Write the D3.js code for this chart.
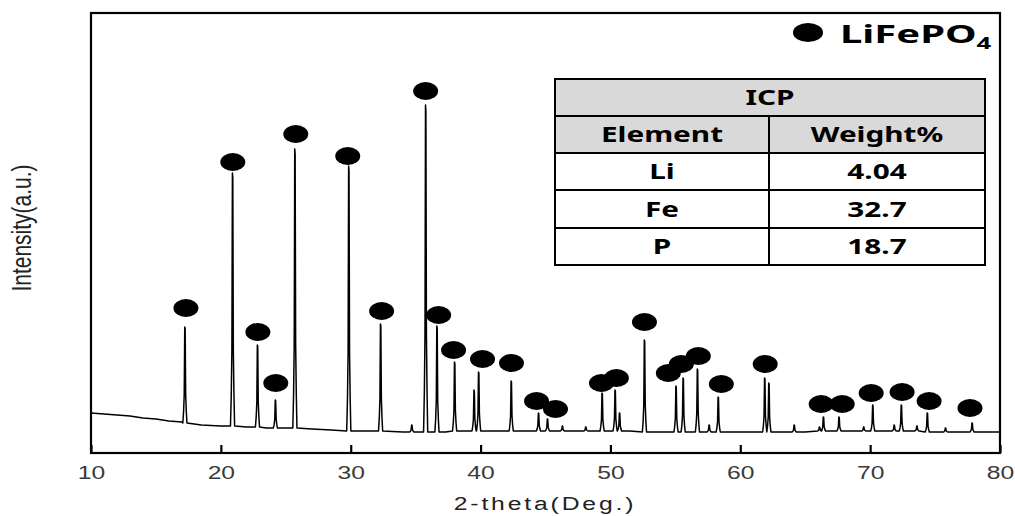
<!DOCTYPE html>
<html>
<head>
<meta charset="utf-8">
<script src="https://cdn.jsdelivr.net/npm/d3@7/dist/d3.min.js"></script>
<style>
  body { margin: 0; background: #fff; }
  svg { display: block; }
</style>
</head>
<body>
<div id="chart"></div>
<script>
// background of the pattern, read at a few 2-theta positions
var baseTheta = [10, 11, 12, 13, 14, 15, 16, 17, 18.5, 20, 22, 23.5, 27, 28.5, 31, 34, 37.3, 41, 43.5, 47, 48.8, 51.5, 54, 59.5, 60.5, 63, 65, 68.5, 71, 73, 76.5, 79, 80];
var baseLevel = [40, 39, 38, 37, 35, 34, 32, 31, 28, 27, 26, 25, 24, 23, 22, 21, 21, 22, 22, 22, 22, 22, 21, 21, 21, 21, 21, 22, 22, 22, 21, 21, 21];

// reflections: position, top intensity, local background
var peakTheta = [17.23, 20.9, 22.82, 24.2, 25.7, 29.85, 32.3, 34.7, 35.77, 36.64, 38.0, 39.5, 39.85, 42.36, 44.46, 45.15, 46.3, 48.1, 49.36, 50.36, 50.7, 52.62, 55.05, 55.6, 56.7, 57.6, 58.3, 61.88, 62.2, 64.15, 66.1, 66.4, 67.6, 69.5, 70.2, 71.85, 72.4, 73.6, 74.4, 75.8, 77.85];
var peakTop = [126, 280, 108, 53, 304, 287, 129, 28, 348, 127, 91, 63, 81, 72, 40, 34, 27, 26, 60, 63, 40, 113, 67, 75, 84, 28, 56, 75, 70, 28, 26, 36, 36, 26, 48, 28, 48, 27, 40, 25, 30];
var peakBase = [30, 27, 26, 25, 25, 22, 22, 21, 21, 21, 22, 22, 22, 22, 22, 22, 22, 22, 22, 22, 22, 21, 21, 21, 21, 21, 21, 21, 21, 21, 22, 22, 22, 22, 22, 22, 22, 22, 21, 21, 21];

// LiFePO4 markers
var markerTheta = [17.31, 20.92, 22.85, 24.23, 25.77, 29.77, 32.38, 35.77, 36.77, 37.92, 40.15, 42.38, 44.31, 45.77, 49.31, 50.46, 52.62, 54.46, 55.46, 56.77, 58.54, 61.92, 66.23, 67.85, 70.08, 72.46, 74.54, 77.69];
var markerLevel = [145, 291, 121, 70, 319, 297, 142, 362, 138, 103, 94, 90, 52, 44, 70, 75, 131, 80, 89, 97, 69, 89, 49, 49, 60, 61, 52, 45];

var xTicks = [10, 20, 30, 40, 50, 60, 70, 80];

// ICP table
var icpElements = ["Li", "Fe", "P"];
var icpWeights = ["4.04", "32.7", "18.7"];

var width = 1015,
    height = 516,
    margin = {top: 13, right: 15, bottom: 63, left: 91};

var svg = d3.select("#chart").append("svg")
    .attr("width", width)
    .attr("height", height);

var x = d3.scaleLinear().domain([10, 80]).range([margin.left, width - margin.right]);
var y = d3.scaleLinear().domain([0, 440]).range([height - margin.bottom, margin.top]);

// peak profile shape (offset in deg, fraction of height)
var profDx = [-0.16, -0.1, -0.05, -0.01, 0.02, 0.06, 0.11, 0.16],
    profF = [0, 0.12, 0.3, 1, 0.98, 0.3, 0.12, 0];

var pts = baseTheta.map(function(t, i) { return [t, baseLevel[i]]; });
peakTheta.forEach(function(p, i) {
  profDx.forEach(function(dx, k) {
    pts.push([p + dx, peakBase[i] + profF[k] * (peakTop[i] - peakBase[i])]);
  });
});
pts.sort(function(a, b) { return a[0] - b[0]; });

var line = d3.line()
    .x(function(d) { return x(d[0]); })
    .y(function(d) { return y(d[1]); });

svg.append("path")
    .datum(pts)
    .attr("fill", "none")
    .attr("stroke", "#000")
    .attr("stroke-width", 1.5)
    .attr("stroke-linejoin", "round")
    .attr("d", line);

svg.selectAll("ellipse.mk")
    .data(markerTheta)
  .enter().append("ellipse")
    .attr("class", "mk")
    .attr("cx", function(d) { return x(d); })
    .attr("cy", function(d, i) { return y(markerLevel[i]); })
    .attr("rx", 12.5)
    .attr("ry", 9)
    .attr("fill", "#000");

// frame
svg.append("rect")
    .attr("x", x(10))
    .attr("y", y(440))
    .attr("width", x(80) - x(10))
    .attr("height", y(0) - y(440))
    .attr("fill", "none")
    .attr("stroke", "#000")
    .attr("stroke-width", 2.2);

// x axis, ticks pointing inward
var xAxis = svg.append("g")
    .attr("transform", "translate(0," + y(0) + ")")
    .call(d3.axisBottom(x).tickValues(xTicks).tickSize(-8).tickPadding(0).tickFormat(d3.format("d")));
xAxis.select(".domain").remove();
xAxis.selectAll(".tick line").attr("stroke", "#000").attr("stroke-width", 2.2);
xAxis.selectAll(".tick text").remove();
xAxis.selectAll(".tick").append("text")
    .attr("transform", "translate(0,26) scale(1.3,1)")
    .attr("text-anchor", "middle")
    .attr("fill", "#3a3a3a")
    .style("font", "19px 'Liberation Sans', Arial, sans-serif")
    .text(function(d) { return d; });

svg.append("text")
    .attr("transform", "translate(545,510) scale(1.3,1)")
    .attr("text-anchor", "middle")
    .attr("fill", "#222")
    .style("font", "19px 'Liberation Sans', Arial, sans-serif")
    .style("letter-spacing", "2.2px")
    .text("2-theta(Deg.)");

svg.append("text")
    .attr("transform", "translate(31,228) scale(1.3,1) rotate(-90)")
    .attr("text-anchor", "middle")
    .attr("fill", "#222")
    .style("font", "21px 'Liberation Sans', Arial, sans-serif")
    .text("Intensity(a.u.)");

// legend
svg.append("ellipse")
    .attr("cx", 808).attr("cy", 32.5)
    .attr("rx", 15).attr("ry", 9.5)
    .attr("fill", "#000");
var lg = svg.append("text")
    .attr("transform", "translate(840,43) scale(1.6,1)")
    .attr("fill", "#000")
    .style("font", "bold 25px 'Noto Sans', 'Open Sans', sans-serif");
lg.append("tspan").text("LiFePO");
lg.append("tspan").attr("dy", 6).style("font-size", "16px").text("4");

// ICP table
var tx0 = 555, tx1 = 985, tmid = 769,
    rowY = [79, 116, 153, 190, 228, 265];
var tbl = svg.append("g");
tbl.append("rect")
    .attr("x", tx0).attr("y", rowY[0])
    .attr("width", tx1 - tx0).attr("height", rowY[2] - rowY[0])
    .attr("fill", "#d9d9d9");
rowY.forEach(function(ry) {
  tbl.append("line")
      .attr("x1", tx0).attr("x2", tx1).attr("y1", ry).attr("y2", ry)
      .attr("stroke", "#000").attr("stroke-width", 2);
});
[tx0, tx1].forEach(function(cx) {
  tbl.append("line")
      .attr("x1", cx).attr("x2", cx).attr("y1", rowY[0] - 1).attr("y2", rowY[5] + 1)
      .attr("stroke", "#000").attr("stroke-width", 2);
});
tbl.append("line")
    .attr("x1", tmid).attr("x2", tmid).attr("y1", rowY[1]).attr("y2", rowY[5])
    .attr("stroke", "#000").attr("stroke-width", 2);

function cell(cx, row, txt) {
  tbl.append("text")
      .attr("transform", "translate(" + cx + "," + ((rowY[row] + rowY[row + 1]) / 2 + 7.5) + ") scale(1.45,1)")
      .attr("text-anchor", "middle")
      .attr("fill", "#000")
      .style("font", "bold 20.5px 'Noto Sans', 'Open Sans', sans-serif")
      .text(txt);
}
cell((tx0 + tx1) / 2, 0, "ICP");
cell((tx0 + tmid) / 2, 1, "Element");
cell((tmid + tx1) / 2, 1, "Weight%");
icpElements.forEach(function(el, i) {
  cell((tx0 + tmid) / 2, i + 2, el);
  cell((tmid + tx1) / 2, i + 2, icpWeights[i]);
});
</script>
</body>
</html>
